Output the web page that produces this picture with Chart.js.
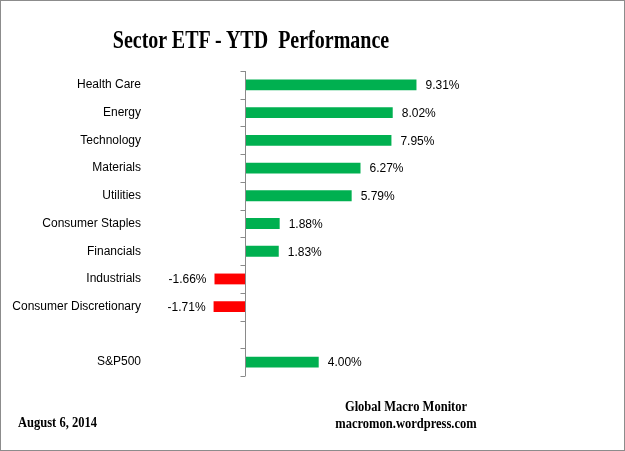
<!DOCTYPE html>
<html>
<head>
<meta charset="utf-8">
<script src="https://cdn.jsdelivr.net/npm/chart.js@4"></script>
<style>
body{margin:0;background:#fff;}
#wrap{position:relative;width:625px;height:451px;}
#frame{position:absolute;left:0;top:0;width:623px;height:449px;border:1px solid #8c8c8c;pointer-events:none;}
.txt{position:absolute;font-family:"Liberation Serif","Times New Roman",serif;font-weight:bold;color:#000;white-space:nowrap;}
#title{left:0;width:502px;top:26px;text-align:center;font-size:25px;transform:scaleX(0.8);transform-origin:251px 0;}
#date{left:18px;top:414px;font-size:15px;transform:scaleX(0.835);transform-origin:0 0;}
#src{left:306px;width:200px;top:398px;text-align:center;font-size:15px;line-height:17px;transform:scaleX(0.835);transform-origin:100px 0;}
</style>
</head>
<body>
<div id="wrap">
<canvas id="c" width="625" height="451"></canvas>
<div class="txt" id="title">Sector ETF - YTD&nbsp;&nbsp;Performance</div>
<div class="txt" id="date">August 6, 2014</div>
<div class="txt" id="src">Global Macro Monitor<br>macromon.wordpress.com</div>
<div id="frame"></div>
</div>
<script>
const categories = ['Health Care','Energy','Technology','Materials','Utilities','Consumer Staples','Financials','Industrials','Consumer Discretionary','','S&P500'];
const ytd = [9.31,8.02,7.95,6.27,5.79,1.88,1.83,-1.66,-1.71,null,4.00];

const green = '#00b050';
const red = '#ff0000';

// zero axis line with small tick marks at category boundaries
const zeroAxis = {
id:'zeroAxis',
afterDatasetsDraw(chart){
const ctx = chart.ctx;
const x = Math.round(chart.scales.x.getPixelForValue(0)) + 0.5;
const y = chart.scales.y;
const step = (y.bottom - y.top) / categories.length;
ctx.save();
ctx.strokeStyle = '#8a8a8a';
ctx.lineWidth = 1;
ctx.beginPath();
ctx.moveTo(x, y.top);
ctx.lineTo(x, y.bottom);
for(let i=0;i<=categories.length;i++){
const ty = Math.round(y.top + i*step) + 0.5;
ctx.moveTo(x-5, ty);
ctx.lineTo(x, ty);
}
ctx.stroke();
ctx.restore();
}
};

// value labels next to the bars
const valueLabels = {
id:'valueLabels',
afterDatasetsDraw(chart){
const ctx = chart.ctx;
const meta = chart.getDatasetMeta(0);
ctx.save();
ctx.font = '12px "Liberation Sans", Arial, sans-serif';
ctx.fillStyle = '#000';
ctx.textBaseline = 'middle';
meta.data.forEach((bar,i)=>{
const v = ytd[i];
if(v === null) return;
const txt = v.toFixed(2) + '%';
if(v >= 0){
ctx.textAlign = 'left';
ctx.fillText(txt, bar.x + 9, bar.y + 1);
}else{
ctx.textAlign = 'right';
ctx.fillText(txt, bar.x - 8, bar.y + 1);
}
});
ctx.restore();
}
};

new Chart(document.getElementById('c'),{
type:'bar',
data:{
labels:categories,
datasets:[{
data:ytd,
backgroundColor:ytd.map(v => v !== null && v < 0 ? red : green),
barPercentage:0.39,
categoryPercentage:1
}]
},
options:{
indexAxis:'y',
responsive:false,
animation:false,
devicePixelRatio:1,
layout:{padding:{top:71,bottom:75,right:159,left:0}},
plugins:{
legend:{display:false},
tooltip:{enabled:false}
},
scales:{
x:{
display:false,
min:-5,
max:12
},
y:{
afterFit(scale){ scale.width = 153; },
grid:{display:false},
border:{display:false},
ticks:{
padding:4,
color:'#000',
font:{family:'"Liberation Sans", Arial, sans-serif',size:12}
}
}
}
},
plugins:[zeroAxis,valueLabels]
});
</script>
</body>
</html>
